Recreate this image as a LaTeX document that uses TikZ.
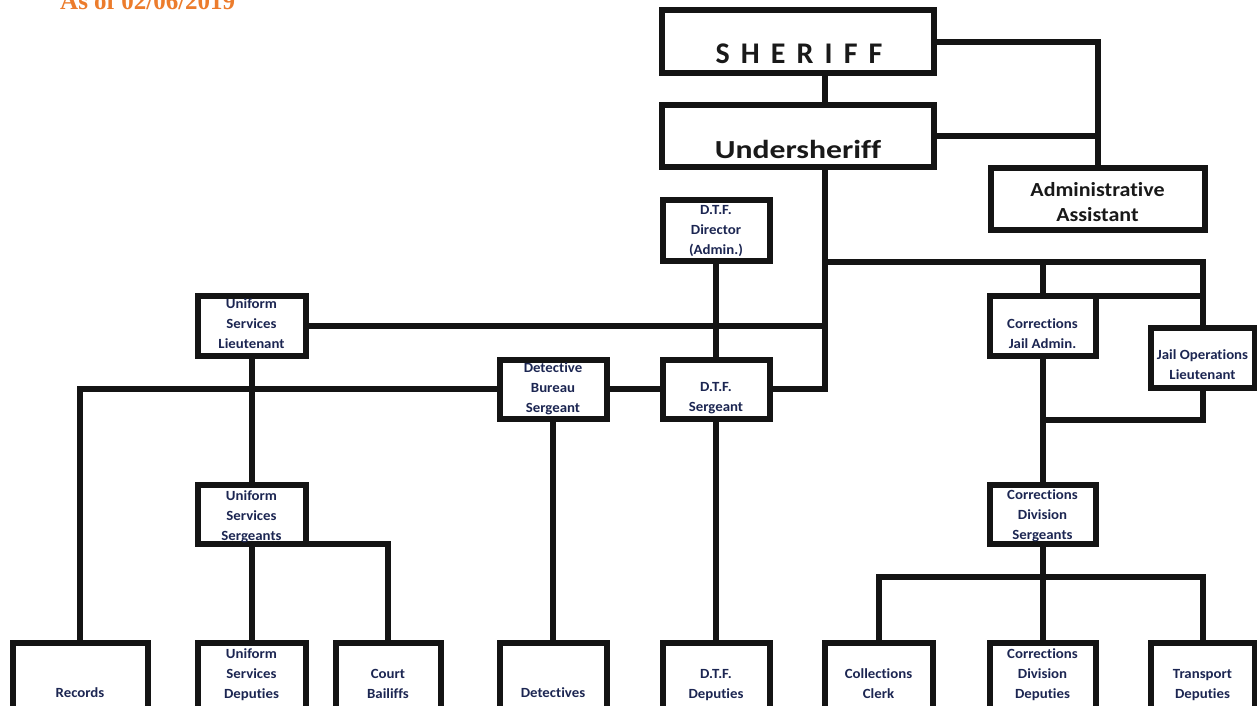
\documentclass[tikz,border=0pt]{standalone}
\usepackage{fontspec}
\setmainfont[Ligatures=NoCommon]{Carlito}
\newfontfamily\titlefont{Liberation Serif}
\newfontfamily\bigfont[LetterSpace=37,Ligatures=NoCommon]{Carlito}
\newfontfamily\widefont[FakeStretch=1.22,Ligatures=NoCommon]{Carlito}
\newfontfamily\midfont[FakeStretch=1.1,Ligatures=NoCommon]{Carlito}
\newfontfamily\lblfont[FakeStretch=1.06,Ligatures=NoCommon]{Carlito}
\definecolor{navy}{RGB}{28,38,82}
\definecolor{orangeT}{RGB}{236,124,44}
\newcommand\boxtext[4]{%
  \foreach \t [count=\i] in {#4} \node[lbl] (#1-\i) at (#2, #3+20*\i-20) {\t};}
\begin{document}
\begin{tikzpicture}[x=1pt,y=-1pt,
  box/.style={draw=black!92, line width=6pt, inner sep=0pt, outer sep=0pt, fill=white},
  conn/.style={line width=6pt, draw=black!92},
  lbl/.style={font=\lblfont\bfseries\fontsize{14}{20}\selectfont, text=navy, anchor=base, inner sep=0pt},
  biglbl/.style={text=black!90, anchor=base, inner sep=0pt}]
\useasboundingbox (0,0) rectangle (1257,705);
\fill[white] (0,0) rectangle (1257,705);
\node[anchor=base west, inner sep=0pt, text=orangeT, font=\titlefont\bfseries\fontsize{25}{27}\selectfont] (title) at (60,9) {As of 02/06/2019};
% coordinates for trunk
\coordinate (trunk) at (825,0);
\coordinate (j1) at (825,262);
\coordinate (j2) at (1042.5,420);
\coordinate (j3) at (1042.5,577);
% boxes
\node[box, minimum width=272, minimum height=63] (sheriff) at (798,41.5) {};
\node[box, minimum width=272, minimum height=62] (under) at (798,136) {};
\node[box, minimum width=214, minimum height=62] (admin) at (1097.5,199) {};
\node[box, minimum width=107, minimum height=61] (dtfdir) at (716,230) {};
\node[box, minimum width=108, minimum height=60] (uslt) at (251.5,325.5) {};
\node[box, minimum width=107, minimum height=59] (detsgt) at (553,389) {};
\node[box, minimum width=107, minimum height=59] (dtfsgt) at (716,389) {};
\node[box, minimum width=106, minimum height=60] (cja) at (1042.5,325.5) {};
\node[box, minimum width=104, minimum height=60] (jol) at (1202.5,357.5) {};
\node[box, minimum width=108, minimum height=59] (ussgt) at (251.5,514) {};
\node[box, minimum width=106, minimum height=59] (cdsgt) at (1042.5,514) {};
\node[box, minimum width=135, minimum height=66] (records) at (80,675.5) {};
\node[box, minimum width=108, minimum height=66] (usdep) at (251.5,675.5) {};
\node[box, minimum width=105, minimum height=66] (court) at (388,675.5) {};
\node[box, minimum width=107, minimum height=66] (detectives) at (553,675.5) {};
\node[box, minimum width=107, minimum height=66] (dtfdep) at (716,675.5) {};
\node[box, minimum width=108, minimum height=66] (clerk) at (878.5,675.5) {};
\node[box, minimum width=106, minimum height=66] (cddep) at (1042.5,675.5) {};
\node[box, minimum width=104, minimum height=66] (transport) at (1202.5,675.5) {};
% connectors
\draw[conn] (sheriff.south -| trunk) -- (under.north -| trunk);
\draw[conn] (sheriff.east) -| (admin.north);
\draw[conn] (under.east) -- (under.east -| admin.north);
\draw[conn] (under.south -| trunk) |- (dtfsgt.east);
\draw[conn] (j1) -| (jol.north);
\draw[conn] (j1 -| cja.north) -- (cja.north);
\draw[conn] (cja.north east) -- (cja.north east -| jol.north);
\draw[conn] (uslt.east) -- (uslt.east -| trunk);
\draw[conn] (dtfdir.south) -- (dtfsgt.north);
\draw[conn] (detsgt.east) -- (dtfsgt.west);
\draw[conn] (detsgt.west) -| (records.north);
\draw[conn] (uslt.south) -- (ussgt.north);
\draw[conn] (ussgt.south) -- (usdep.north);
\draw[conn] (ussgt.south east) -| (court.north);
\draw[conn] (detsgt.south) -- (detectives.north);
\draw[conn] (dtfsgt.south) -- (dtfdep.north);
\draw[conn] (cja.south) -- (cdsgt.north);
\draw[conn] (jol.south) |- (j2);
\draw[conn] (cdsgt.south) -- (cddep.north);
\draw[conn] (clerk.north) |- (j3) -| (transport.north);
% texts
\node[biglbl, font=\bigfont\bfseries\fontsize{30}{32}\selectfont] (sheriff-t) at (799,63) {SHERIFF};
\node[biglbl, font=\widefont\bfseries\fontsize{26}{30}\selectfont] (under-t) at (798,158.5) {Undersheriff};
\node[biglbl, font=\midfont\bfseries\fontsize{20}{25}\selectfont] (admin-t1) at (1097.5,196) {Administrative};
\node[biglbl, font=\midfont\bfseries\fontsize{20}{25}\selectfont] (admin-t2) at (1097.5,221) {Assistant};
\boxtext{dtfdir}{716}{214}{D.T.F.,Director,(Admin.)}
\boxtext{uslt}{251.5}{308.5}{Uniform,Services,Lieutenant}
\boxtext{detsgt}{553}{372}{Detective,Bureau,Sergeant}
\boxtext{dtfsgt}{716}{391}{D.T.F.,Sergeant}
\boxtext{cja}{1042.5}{328}{Corrections,Jail Admin.}
\boxtext{jol}{1202.5}{359}{Jail Operations,Lieutenant}
\boxtext{ussgt}{251.5}{500}{Uniform,Services,Sergeants}
\boxtext{cdsgt}{1042.5}{499.5}{Corrections,Division,Sergeants}
\boxtext{records}{80}{697.5}{Records}
\boxtext{usdep}{251.5}{658.5}{Uniform,Services,Deputies}
\boxtext{court}{388}{678}{Court,Bailiffs}
\boxtext{detectives}{553}{697.5}{Detectives}
\boxtext{dtfdep}{716}{678}{D.T.F.,Deputies}
\boxtext{clerk}{878.5}{678}{Collections,Clerk}
\boxtext{cddep}{1042.5}{658}{Corrections,Division,Deputies}
\boxtext{transport}{1202.5}{678}{Transport,Deputies}
\end{tikzpicture}
\end{document}
